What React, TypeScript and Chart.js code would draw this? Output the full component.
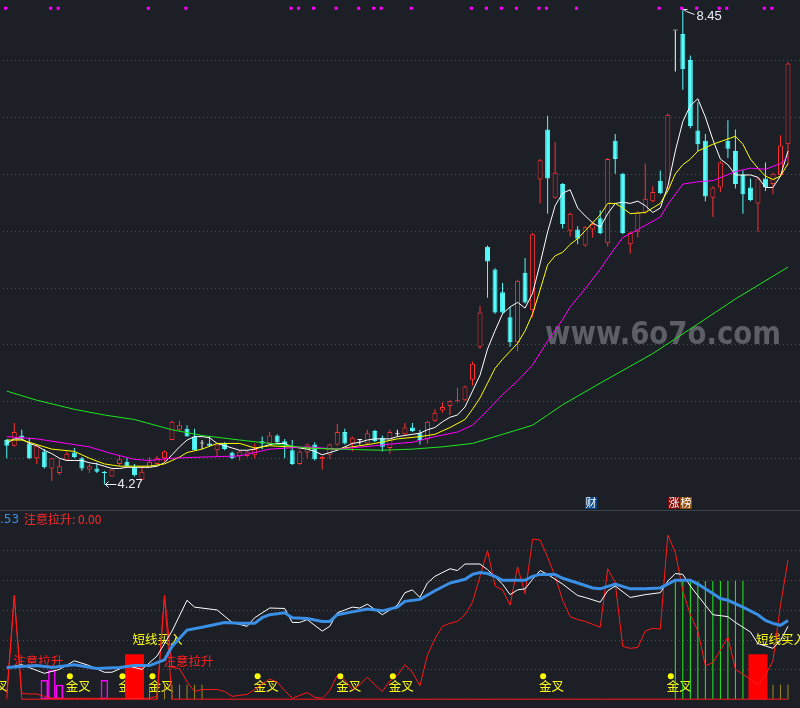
import React, { useEffect, useRef } from "react";
import { Chart, registerables } from "chart.js";

Chart.register(...registerables);

const BG = "#1c1f26";
const RED = "#ff3232";
const CYAN = "#54fcfc";
const N = 105;
const IDX = Array.from({ length: N }, (_, i) => i);

// ---------- price panel data (OHLC per day) ----------
const OPEN = [4.66,4.61,4.70,4.63,4.50,4.56,4.41,4.37,4.48,4.55,4.50,4.40,4.41,4.38,4.34,4.45,4.47,4.42,4.31,4.42,4.45,4.50,4.66,4.75,4.76,4.69,4.63,4.63,4.57,4.63,4.55,4.52,4.52,4.53,4.65,4.63,4.70,4.65,4.57,4.45,4.55,4.62,4.49,4.53,4.62,4.73,4.63,4.66,4.63,4.74,4.68,4.59,4.71,4.71,4.77,4.72,4.67,4.83,4.92,4.96,5.00,5.01,5.19,5.48,6.36,6.16,5.96,5.74,5.52,6.13,5.80,6.95,7.39,6.79,6.91,6.50,6.51,6.37,6.51,6.61,6.39,7.29,7.00,6.38,6.49,6.66,6.76,6.94,6.87,8.26,8.23,8.00,7.38,7.29,6.79,6.88,7.29,7.20,6.99,6.88,6.74,6.96,6.91,6.99,7.26];
const HIGH = [4.67,4.81,4.75,4.68,4.61,4.58,4.50,4.49,4.56,4.59,4.51,4.45,4.46,4.39,4.40,4.53,4.50,4.45,4.43,4.51,4.52,4.57,4.83,4.83,4.79,4.76,4.66,4.69,4.62,4.64,4.56,4.57,4.57,4.63,4.69,4.73,4.71,4.67,4.66,4.57,4.63,4.64,4.52,4.63,4.80,4.76,4.69,4.67,4.75,4.75,4.70,4.75,4.75,4.81,4.81,4.75,4.83,4.93,4.99,5.01,5.12,5.14,5.35,5.84,6.37,6.17,6.04,5.83,6.07,6.26,6.48,7.13,7.51,7.28,6.92,6.66,6.54,6.54,6.58,6.68,7.14,7.35,7.01,6.49,6.67,7.09,6.89,7.03,7.53,8.26,8.45,8.04,7.63,7.35,6.89,7.11,7.47,7.39,7.03,6.96,6.97,7.10,7.01,7.34,7.98];
const LOW = [4.50,4.60,4.66,4.49,4.45,4.41,4.30,4.35,4.48,4.50,4.39,4.37,4.37,4.27,4.34,4.43,4.43,4.34,4.31,4.42,4.45,4.47,4.66,4.74,4.69,4.57,4.58,4.60,4.51,4.57,4.49,4.48,4.51,4.50,4.58,4.62,4.63,4.50,4.44,4.44,4.50,4.48,4.40,4.49,4.61,4.62,4.56,4.62,4.62,4.64,4.56,4.54,4.69,4.70,4.73,4.62,4.63,4.82,4.90,4.88,4.99,5.00,5.14,5.46,5.91,5.77,5.77,5.48,5.44,5.86,5.74,6.74,6.65,6.78,6.52,6.45,6.38,6.36,6.44,6.47,6.36,7.00,6.47,6.30,6.44,6.65,6.75,6.82,6.86,7.90,7.74,7.40,7.20,6.76,6.62,6.84,7.14,6.87,6.65,6.76,6.49,6.85,6.82,6.98,7.08];
const CLOSE = [4.61,4.73,4.68,4.50,4.61,4.42,4.50,4.43,4.54,4.51,4.41,4.43,4.38,4.37,4.40,4.49,4.43,4.35,4.38,4.47,4.50,4.56,4.82,4.79,4.69,4.57,4.63,4.61,4.62,4.58,4.50,4.56,4.56,4.58,4.63,4.70,4.64,4.62,4.45,4.56,4.62,4.49,4.51,4.62,4.73,4.63,4.68,4.66,4.72,4.65,4.60,4.73,4.71,4.77,4.74,4.66,4.82,4.90,4.95,5.00,5.01,5.13,5.33,5.78,6.23,5.78,5.78,5.52,6.06,5.87,6.47,7.12,6.96,7.01,6.56,6.65,6.43,6.53,6.56,6.48,7.13,7.13,6.48,6.48,6.66,6.78,6.84,6.83,7.52,8.26,7.92,7.42,7.26,6.80,6.88,7.10,7.22,6.91,6.82,6.77,6.96,6.88,7.00,7.25,7.97];

const MA5 = [4.63,4.67,4.67,4.63,4.61,4.57,4.54,4.50,4.48,4.48,4.48,4.46,4.45,4.43,4.41,4.41,4.42,4.42,4.42,4.42,4.43,4.46,4.53,4.60,4.66,4.69,4.69,4.68,4.63,4.61,4.59,4.57,4.57,4.58,4.60,4.62,4.63,4.63,4.60,4.59,4.58,4.56,4.53,4.55,4.57,4.60,4.63,4.64,4.66,4.67,4.67,4.67,4.69,4.70,4.71,4.72,4.75,4.77,4.82,4.86,4.88,4.95,5.09,5.23,5.46,5.62,5.77,5.83,5.87,5.82,5.95,6.21,6.49,6.72,6.83,6.86,6.70,6.63,6.57,6.53,6.65,6.74,6.75,6.74,6.76,6.72,6.66,6.70,6.89,7.20,7.46,7.60,7.66,7.50,7.30,7.13,7.08,6.99,6.99,6.99,6.97,6.88,6.88,6.98,7.20];
const MA10: [number, number][] = [[0,4.66],[2,4.66],[4,4.62],[6,4.58],[9,4.56],[11,4.50],[13,4.45],[15,4.43],[17,4.43],[19,4.43],[21,4.45],[23,4.51],[24,4.55],[26,4.58],[28,4.63],[31,4.63],[33,4.59],[35,4.61],[40,4.59],[44,4.58],[46,4.60],[49,4.63],[52,4.67],[55,4.69],[57,4.71],[59,4.77],[61,4.84],[62,4.93],[63,5.03],[64,5.16],[65,5.29],[66,5.37],[67,5.44],[68,5.51],[69,5.62],[70,5.77],[71,5.98],[72,6.20],[73,6.28],[74,6.31],[75,6.38],[76,6.43],[77,6.50],[78,6.57],[79,6.64],[80,6.74],[81,6.74],[82,6.70],[83,6.65],[85,6.66],[87,6.74],[88,6.85],[89,7.00],[90,7.08],[91,7.13],[92,7.20],[94,7.26],[97,7.33],[98,7.26],[99,7.13],[100,7.05],[101,6.98],[102,6.95],[103,6.98],[104,7.09]];
const MA20: [number, number][] = [[0,4.69],[4,4.67],[9,4.62],[11,4.60],[14,4.54],[17,4.49],[19,4.48],[22,4.50],[26,4.51],[31,4.52],[35,4.58],[40,4.60],[44,4.58],[49,4.61],[52,4.63],[54,4.64],[57,4.69],[60,4.73],[62,4.79],[64,4.92],[66,5.06],[68,5.18],[70,5.32],[72,5.53],[74,5.72],[75,5.83],[77,5.99],[79,6.16],[80,6.26],[82,6.44],[84,6.51],[87,6.62],[88,6.73],[90,6.91],[92,6.93],[94,6.94],[97,7.02],[99,7.05],[101,7.04],[103,7.09],[104,7.15]];
const MA60: [number, number][] = [[0,5.09],[4,5.01],[9,4.93],[13,4.88],[17,4.84],[22,4.75],[26,4.70],[31,4.66],[35,4.63],[40,4.59],[44,4.58],[50,4.57],[54,4.58],[58,4.60],[62,4.63],[66,4.71],[70,4.79],[72,4.88],[74,4.97],[79,5.16],[86,5.42],[92,5.68],[97,5.90],[104,6.18]];

const TOP_SIGNALS = [0,6,7,19,24,38,39,41,44,47,49,50,54,62,64,66,68,71,72,76,87,90,92,95,96,101,102];
const PRICE_GRID = [4.5,5.0,5.5,6.0,6.5,7.0,7.5,8.0];
const TAG_CAI = 77;
const TAG_ZB = 88;
const WATERMARK = "www.6o7o.com";

// ---------- indicator panel data ----------
const IND_BLUE: [number, number][] = [[0,21.3],[2,22],[4,22.6],[6,21.3],[9,23.2],[12,20.6],[15,21.3],[17,22.6],[19,22.6],[21,26.5],[22,35.5],[24,46.5],[26,48.4],[29,51.6],[31,51.0],[33,51.0],[34,54.8],[35,56.8],[37,58.1],[38,54.8],[40,54.2],[42,52.3],[43,52.3],[44,56.8],[46,58.7],[48,60.6],[50,59.4],[52,61.9],[53,65.8],[55,67.1],[57,72.9],[59,78.1],[61,80.6],[62,83.9],[63,85.2],[64,84.5],[65,82.6],[66,80.0],[69,80.0],[70,82.6],[71,83.9],[73,83.9],[74,81.3],[76,78.1],[78,74.8],[79,74.2],[81,77.4],[83,74.2],[85,74.2],[87,74.8],[89,80.0],[91,80.0],[92,77.4],[94,71.0],[95,67.7],[96,66.5],[98,61.9],[100,56.8],[101,52.9],[102,51.0],[103,49.7],[104,52.9]];
const IND_WHITE: [number, number][] = [[0,21.3],[2,23.2],[5,17.4],[7,20.0],[9,25.8],[11,22.6],[13,18.1],[14,18.1],[16,22.6],[18,20.0],[20,29.0],[22,45.8],[24,66.5],[25,61.9],[28,60.0],[30,51.6],[32,49.0],[33,54.8],[35,61.3],[37,61.0],[38,51.6],[39,51.6],[40,53.5],[42,45.8],[43,49.0],[44,58.1],[46,61.9],[47,61.3],[48,63.9],[50,56.8],[52,63.2],[53,71.6],[54,73.5],[55,68.4],[56,78.1],[57,82.6],[59,87.7],[60,86.5],[61,90.9],[63,90.9],[64,87.1],[66,77.4],[67,70.3],[68,73.5],[69,74.2],[70,80.6],[71,86.5],[72,83.9],[74,77.4],[76,69.7],[77,68.4],[79,65.2],[80,72.9],[81,76.1],[83,68.4],[85,70.3],[87,71.6],[88,79.4],[89,84.5],[90,83.9],[91,76.1],[93,63.2],[94,56.8],[96,55.5],[97,51.6],[99,45.2],[100,37.4],[102,34.2],[103,39.4],[104,49.0]];
const IND_RED = [3.9,69.7,3.9,3.5,3.5,2.0,0.6,0.6,0.6,0.6,0.6,0.6,0.6,0.6,0.6,0.6,0.6,0.6,0.6,0.6,2.0,69.7,21.3,20.6,11.6,5.2,6.5,6.5,6.5,5.2,1.9,2.6,3.2,6.5,10.3,13.5,11.6,5.8,0.6,2.6,4.5,1.3,0.6,5.8,16.0,12.9,6.5,9.7,14.8,9.7,5.2,12.3,16.0,23.2,18.1,9.0,29.7,40.6,49.0,51.0,52.3,56.8,65.2,82.6,100,76.1,73.5,63.2,89.0,71.0,107.7,107.1,95.5,82.6,66.5,55.5,53.5,52.3,50.3,48.4,87.7,78.1,35.5,34.2,34.8,45.8,47.7,47.1,110.3,98.7,72.9,56.8,45.8,22.6,24.5,32.9,41.9,20.0,16.8,13.5,9.7,16.1,25.8,63.2,93.5];
const ALERT_PEAKS: [number, number][] = [[1,69.7],[21,69.7]];
const MAGENTA_BARS: [number, number][] = [[5,12.9],[6,19.4],[7,9.7],[13,12.9]];
const RED_BARS: [number, number][] = [[17,30.3],[100,30.3]];
const OLIVE_STICKS: [number, number][] = [[19,8.5],[20,9.7],[21,9.7],[22,9.7],[23,9.7],[24,9.7],[25,9.7],[26,9.7],[102,9.7],[103,9.7],[104,9.7]];
const GREEN_STICKS: [number, number][] = [[89,80.6],[90,80.6],[91,79.4],[92,79.4],[93,79.4],[94,79.4],[95,79.4],[96,79.4],[97,79.4],[98,79.4]];
const GOLD_CROSS = [-3,8,15,19,33,44,51,71,88];
const BUY_SIGNALS = [17,100];
const ALERT_SIGNALS = [1,21];
const IND_GRID = [20,40,60,80,100];
const HEADER_VALUE = ".53";
const HEADER_ALERT = "注意拉升: 0.00";

// ---------- helpers ----------
const SHIFT = 1; // canvas is placed 1px left of the page edge
const sparse = (pts: [number, number][]) => {
  const arr: (number | null)[] = new Array(N).fill(null);
  pts.forEach(([i, v]) => { arr[i] = v; });
  return arr;
};
const toXY = (pts: [number, number][]) => pts.map(([x, y]) => ({ x, y }));
const candleColor = (i: number) =>
  OPEN[i] === CLOSE[i] ? "#ffffff" : CLOSE[i] > OPEN[i] ? RED : CYAN;

const CJK = "'Noto Sans CJK SC', 'DejaVu Sans', sans-serif";

const baseOptions = (yMin: number, yMax: number) => ({
  responsive: false,
  animation: false,
  devicePixelRatio: 1,
  events: [],
  layout: { padding: { left: 0, right: 8.25, top: 0, bottom: 0 } },
  plugins: { legend: { display: false }, tooltip: { enabled: false } },
  scales: {
    x: { type: "category", display: false, offset: true },
    xl: {
      type: "linear",
      axis: "x",
      display: false,
      offset: false,
      grace: 0,
      min: -0.5,
      max: N - 0.5,
      grid: { offset: false },
    },
    y: { type: "linear", display: false, min: yMin, max: yMax },
  },
});

const drawGrid = (chart: any, values: number[]) => {
  const { ctx } = chart;
  const ys = chart.scales.y;
  ctx.save();
  ctx.strokeStyle = "#4a4e58";
  ctx.lineWidth = 1;
  ctx.setLineDash([1, 3]);
  values.forEach((v) => {
    const y = Math.round(ys.getPixelForValue(v)) + 0.5;
    ctx.beginPath();
    ctx.moveTo(0, y);
    ctx.lineTo(chart.width, y);
    ctx.stroke();
  });
  ctx.restore();
};

const topPlugin = {
  id: "topDecor",
  beforeDatasetsDraw(chart: any) {
    drawGrid(chart, PRICE_GRID);
    const { ctx } = chart;
    ctx.save();
    ctx.font = "bold 32px 'DejaVu Sans', sans-serif";
    ctx.fillStyle = "rgba(118,121,128,0.72)";
    ctx.textBaseline = "alphabetic";
    ctx.fillText(WATERMARK, 545 + SHIFT, 344, 236);
    ctx.restore();
  },
  afterDatasetsDraw(chart: any) {
    const { ctx } = chart;
    const xs = chart.scales.x;
    const ys = chart.scales.y;
    let hi = 0;
    let lo = 0;
    HIGH.forEach((v, i) => { if (v > HIGH[hi]) hi = i; });
    LOW.forEach((v, i) => { if (v < LOW[lo]) lo = i; });
    ctx.save();
    ctx.strokeStyle = "#e8eef8";
    ctx.fillStyle = "#e8eef8";
    ctx.lineWidth = 1;
    ctx.font = "13px 'Liberation Sans', Arial, sans-serif";
    ctx.textBaseline = "middle";
    // high annotation
    const hx = Math.round(xs.getPixelForValue(hi)) + 0.5;
    const hy = Math.round(ys.getPixelForValue(HIGH[hi])) + 0.5;
    ctx.beginPath();
    ctx.moveTo(hx, hy);
    ctx.lineTo(hx + 4, hy);
    ctx.moveTo(hx, hy);
    ctx.lineTo(hx + 3, hy + 2);
    ctx.moveTo(hx + 3, hy + 2);
    ctx.lineTo(hx + 11, hy + 5);
    ctx.stroke();
    ctx.textAlign = "left";
    ctx.fillText(HIGH[hi].toFixed(2), hx + 13, hy + 7);
    // low annotation
    const lx = Math.round(xs.getPixelForValue(lo)) + 0.5;
    const ly = Math.round(ys.getPixelForValue(LOW[lo])) + 0.5;
    ctx.beginPath();
    ctx.moveTo(lx + 1, ly);
    ctx.lineTo(lx + 12, ly);
    ctx.moveTo(lx + 1, ly);
    ctx.lineTo(lx + 4, ly - 3);
    ctx.moveTo(lx + 1, ly);
    ctx.lineTo(lx + 4, ly + 3);
    ctx.stroke();
    ctx.fillText(LOW[lo].toFixed(2), lx + 13, ly);
    // tags
    const tag = (x: number, text: string, bg: string) => {
      ctx.fillStyle = bg;
      ctx.fillRect(x, 497, 12, 12);
      ctx.fillStyle = "#ffffff";
      ctx.font = "11px " + CJK;
      ctx.textAlign = "center";
      ctx.fillText(text, x + 6, 503);
    };
    const cx = Math.round(xs.getPixelForValue(TAG_CAI));
    tag(cx, "财", "#0c4785");
    const zx = Math.round(xs.getPixelForValue(TAG_ZB));
    tag(zx, "涨", "#7e0606");
    tag(zx + 12, "榜", "#8a4a0c");
    ctx.restore();
  },
};

const bottomPlugin = {
  id: "bottomDecor",
  beforeDatasetsDraw(chart: any) {
    const { ctx } = chart;
    const xl = chart.scales.xl;
    const ys = chart.scales.y;
    ctx.save();
    ctx.strokeStyle = "#3c424e";
    ctx.lineWidth = 1;
    ctx.beginPath();
    ctx.moveTo(0, 0.5);
    ctx.lineTo(chart.width, 0.5);
    ctx.stroke();
    ctx.restore();
    drawGrid(chart, IND_GRID);
    ctx.save();
    ctx.textBaseline = "middle";
    ctx.textAlign = "left";
    ctx.font = "12px 'DejaVu Sans', sans-serif";
    ctx.fillStyle = "#3a8fe6";
    ctx.fillText(HEADER_VALUE, SHIFT, 9.5);
    ctx.font = "12px " + CJK;
    ctx.fillStyle = "#ff2b2b";
    ctx.fillText(HEADER_ALERT, 24 + SHIFT, 9.5);
    ctx.font = "12.5px " + CJK;
    ctx.fillStyle = "#ffff1a";
    GOLD_CROSS.forEach((i) => {
      const x = xl.getPixelForValue(i + 0.4);
      ctx.fillText("金叉", x - 4, ys.getPixelForValue(8.4));
    });
    BUY_SIGNALS.forEach((i) => {
      const x = xl.getPixelForValue(i);
      ctx.fillText("短线买入", x - 2, ys.getPixelForValue(40));
    });
    ctx.fillStyle = "#ff2020";
    ALERT_SIGNALS.forEach((i) => {
      const x = xl.getPixelForValue(i);
      ctx.fillText("注意拉升", x - 1, ys.getPixelForValue(25.8));
    });
    ctx.restore();
  },
};

const topConfig = (): any => {
  const colors = IDX.map(candleColor);
  const fills = IDX.map((i) => (CLOSE[i] > OPEN[i] ? BG : colors[i]));
  const line = (data: any[], color: string) => ({
    type: "line",
    xAxisID: "xl",
    data,
    borderColor: color,
    borderWidth: 1,
    pointRadius: 0,
    tension: 0,
    order: 1,
  });
  return {
    type: "bar",
    data: {
      labels: IDX.map(String),
      datasets: [
        line(toXY(MA60), "#1ee81e"),
        line(toXY(MA20), "#ff00ff"),
        line(toXY(MA10), "#ffff00"),
        line(MA5.map((v, i) => ({ x: i, y: v })), "#ffffff"),
        {
          type: "line",
          xAxisID: "xl",
          data: TOP_SIGNALS.map((i) => ({ x: i - 0.15, y: 8.456 })),
          showLine: false,
          pointStyle: "rect",
          pointRadius: 2.2,
          pointBackgroundColor: "#ff00ff",
          pointBorderWidth: 0,
          order: 0,
        },
        {
          type: "bar",
          data: IDX.map((i) => [Math.min(OPEN[i], CLOSE[i]), Math.max(OPEN[i], CLOSE[i])]),
          backgroundColor: fills,
          borderColor: colors,
          borderWidth: 1,
          borderSkipped: false,
          barThickness: 5,
          minBarLength: 1,
          grouped: false,
          inflateAmount: 0,
          order: 5,
        },
        {
          type: "bar",
          data: IDX.map((i) => [LOW[i], HIGH[i]]),
          backgroundColor: colors,
          borderWidth: 0,
          barThickness: 1,
          grouped: false,
          inflateAmount: 0,
          order: 6,
        },
      ],
    },
    options: baseOptions(4.08, 8.493),
    plugins: [topPlugin],
  };
};

const bottomConfig = (): any => {
  const alert = IDX.map(() => 0);
  ALERT_PEAKS.forEach(([i, v]) => { alert[i] = v; });
  const line = (data: any[], color: string, width: number, order: number) => ({
    type: "line",
    xAxisID: "xl",
    data,
    borderColor: color,
    borderWidth: width,
    pointRadius: 0,
    tension: 0,
    order,
  });
  const sticks = (pts: [number, number][], color: string, order: number) => ({
    type: "bar",
    data: sparse(pts),
    backgroundColor: color,
    borderWidth: 0,
    barThickness: 1,
    grouped: false,
    inflateAmount: 0,
    order,
  });
  return {
    type: "bar",
    data: {
      labels: IDX.map(String),
      datasets: [
        line(alert.map((v, i) => ({ x: i, y: v })), "#ff1a1a", 1, 4),
        line(IND_RED.map((v, i) => ({ x: i, y: v })), "#ff1a1a", 1, 3),
        line(toXY(IND_WHITE), "#ffffff", 1, 2),
        line(toXY(IND_BLUE), "#3a8fe6", 3, 1),
        {
          type: "line",
          xAxisID: "xl",
          data: GOLD_CROSS.map((i) => ({ x: i + 0.4, y: 15.5 })),
          showLine: false,
          pointRadius: 3,
          pointBackgroundColor: "#ffff00",
          pointBorderWidth: 0,
          order: 0,
        },
        {
          type: "bar",
          data: sparse(RED_BARS),
          backgroundColor: "#ff0000",
          borderWidth: 0,
          barThickness: 19,
          grouped: false,
          inflateAmount: 0,
          order: 6,
        },
        {
          type: "bar",
          data: sparse(MAGENTA_BARS),
          backgroundColor: "rgba(0,0,0,0)",
          borderColor: "#ff00ff",
          borderWidth: 1.5,
          borderSkipped: false,
          barThickness: 7.5,
          grouped: false,
          inflateAmount: 0,
          order: 7,
        },
        sticks(OLIVE_STICKS, "#a08a22", 8),
        sticks(GREEN_STICKS, "#22f022", 8),
      ],
    },
    options: baseOptions(-3.23, 124.52),
    plugins: [bottomPlugin],
  };
};

export default function App() {
  const topRef = useRef<HTMLCanvasElement>(null);
  const botRef = useRef<HTMLCanvasElement>(null);
  useEffect(() => {
    document.body.style.margin = "0";
    document.body.style.background = BG;
    const top = new Chart(topRef.current as HTMLCanvasElement, topConfig());
    const bot = new Chart(botRef.current as HTMLCanvasElement, bottomConfig());
    return () => {
      top.destroy();
      bot.destroy();
    };
  }, []);
  return (
    <div style={{ position: "relative", width: 800, height: 708, background: BG, overflow: "hidden" }}>
      <canvas ref={topRef} width={801} height={510} style={{ position: "absolute", left: -SHIFT, top: 0 }} />
      <canvas ref={botRef} width={801} height={198} style={{ position: "absolute", left: -SHIFT, top: 510 }} />
    </div>
  );
}
